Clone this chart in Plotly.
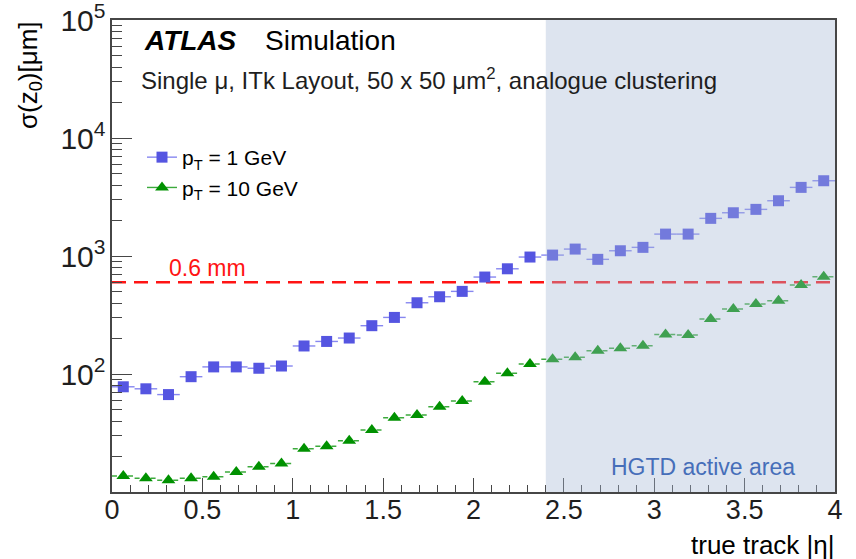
import plotly.graph_objects as go

# |eta| bin centres (bins of width 0.125 from 0 to 4)
ETA_CENTERS = [0.0625, 0.1875, 0.3125, 0.4375, 0.5625, 0.6875, 0.8125, 0.9375,
               1.0625, 1.1875, 1.3125, 1.4375, 1.5625, 1.6875, 1.8125, 1.9375,
               2.0625, 2.1875, 2.3125, 2.4375, 2.5625, 2.6875, 2.8125, 2.9375,
               3.0625, 3.1875, 3.3125, 3.4375, 3.5625, 3.6875, 3.8125, 3.9375]
BIN_HALF_WIDTH = 0.0625

# sigma(z0) in micrometres
SIGMA_PT1 = [78, 75, 67, 95, 115, 115, 112, 117, 173, 189, 202, 257, 302, 402, 452, 502,
             664, 780, 981, 1019, 1146, 938, 1109, 1185, 1535, 1535, 2087, 2328, 2487, 2943, 3820, 4348]
SIGMA_PT10 = [13.7, 13.1, 12.6, 13.1, 13.5, 14.8, 16.4, 17.5, 23.3, 24.5, 27.2, 33.5, 42.6, 44.9,
              52.8, 59.0, 86.1, 101.4, 121.6, 133.2, 138.6, 157.5, 165.1, 173.8, 216.9, 214.1,
              292.4, 355.6, 391.9, 418.0, 567.9, 667.6]

SERIES_NAMES = ["p<sub>T</sub> = 1 GeV", "p<sub>T</sub> = 10 GeV"]
REFERENCE_SIGMA = 600          # 0.6 mm line, in micrometres
HGTD_ETA_RANGE = [2.4, 4.0]
X_RANGE = [0, 4]
# log10 range; the lower end sits just above 1 so the "10" label at the bottom is not drawn
Y_RANGE_LOG = [1.0005, 5.0005]

FONT = "Liberation Sans, Arial, Helvetica, sans-serif"

# plot-area geometry in pixels (for placing text)
W, H = 856, 559
L, R, T, B = 112, 21, 20, 67
PW, PH = W - L - R, H - T - B


def px(xp):
    return (xp - L) / PW


def py(yp):
    return (T + PH - yp) / PH


def bin_segments(centers, values, half):
    xs, ys = [], []
    for c, v in zip(centers, values):
        xs += [c - half, c + half, None]
        ys += [v, v, None]
    return xs, ys


def isolated(centers, values):
    xs, ys = [], []
    for c, v in zip(centers, values):
        xs += [c, None]
        ys += [v, None]
    return xs, ys


BLUE = "rgb(85,85,225)"
BLUE_LIGHT = "rgb(135,135,240)"
GREEN = "rgb(0,145,0)"
GREEN_LIGHT = "rgb(60,170,60)"

fig = go.Figure()

# horizontal bin-width bars
sx, sy = bin_segments(ETA_CENTERS, SIGMA_PT1, BIN_HALF_WIDTH)
fig.add_trace(go.Scatter(x=sx, y=sy, mode="lines", line=dict(color=BLUE_LIGHT, width=1.4),
                         showlegend=False, hoverinfo="skip"))
sx, sy = bin_segments(ETA_CENTERS, SIGMA_PT10, BIN_HALF_WIDTH)
fig.add_trace(go.Scatter(x=sx, y=sy, mode="lines",
                         line=dict(color=GREEN_LIGHT, width=1.5, dash="5px,3px"),
                         showlegend=False, hoverinfo="skip"))

# markers (points separated so no connecting line is drawn)
mx, my = isolated(ETA_CENTERS, SIGMA_PT1)
fig.add_trace(go.Scatter(x=mx, y=my, mode="lines+markers", name=SERIES_NAMES[0],
                         line=dict(color=BLUE_LIGHT, width=1.4),
                         marker=dict(symbol="square", size=11, color=BLUE)))
mx, my = isolated(ETA_CENTERS, SIGMA_PT10)
fig.add_trace(go.Scatter(x=mx, y=my, mode="lines+markers", name=SERIES_NAMES[1],
                         line=dict(color=GREEN_LIGHT, width=1.4),
                         marker=dict(symbol="triangle-up", size=12, color=GREEN)))

shapes = [
    dict(type="line", xref="x", yref="y", x0=X_RANGE[0], x1=X_RANGE[1],
         y0=REFERENCE_SIGMA, y1=REFERENCE_SIGMA, layer="below",
         line=dict(color="rgb(255,20,20)", width=2.5, dash="14px,8px")),
    dict(type="rect", xref="x", yref="paper", x0=HGTD_ETA_RANGE[0], x1=HGTD_ETA_RANGE[1],
         y0=0, y1=1, layer="above", fillcolor="rgba(165,185,212,0.38)", line=dict(width=0)),
]

annotations = [
    dict(text="<b><i>ATLAS</i></b>", x=px(142), y=py(40), xanchor="left", yanchor="middle",
         font=dict(size=28, color="black", family=FONT)),
    dict(text="Simulation", x=px(263), y=py(40), xanchor="left", yanchor="middle",
         font=dict(size=28, color="black", family=FONT)),
    dict(text="Single \u03bc, ITk Layout, 50 x 50 \u03bcm<sup>2</sup>, analogue clustering",
         x=px(139), y=py(79), xanchor="left", yanchor="middle",
         font=dict(size=24, color="rgb(30,30,30)", family=FONT)),
    dict(text="0.6 mm", x=px(167), y=py(268), xanchor="left", yanchor="middle",
         font=dict(size=23, color="rgb(255,20,20)", family=FONT)),
    dict(text="HGTD active area", x=px(609), y=py(467), xanchor="left", yanchor="middle",
         font=dict(size=23, color="rgb(70,110,185)", family=FONT)),
    dict(text="true track |\u03b7|", x=px(837), y=py(545), xanchor="right", yanchor="middle",
         font=dict(size=26, color="black", family=FONT)),
    dict(text="\u03c3(z<sub>0</sub>)[\u03bcm]", x=px(30), y=py(19), xanchor="center", yanchor="top",
         textangle=-90, font=dict(size=26, color="black", family=FONT)),
]
for a in annotations:
    a.update(xref="paper", yref="paper", showarrow=False)

fig.update_layout(
    width=W, height=H,
    margin=dict(l=L, r=R, t=T, b=B, autoexpand=False),
    paper_bgcolor="white", plot_bgcolor="white",
    font=dict(family=FONT, color="black"),
    shapes=shapes,
    annotations=annotations,
    legend=dict(x=px(142), y=py(137), xanchor="left", yanchor="top",
                bgcolor="rgba(0,0,0,0)", font=dict(size=21, family=FONT, color="black"),
                tracegroupgap=0),
)

fig.update_xaxes(
    range=X_RANGE, dtick=0.5, tick0=0, showgrid=False, zeroline=False, automargin=False,
    showline=True, mirror=True, linecolor="rgb(70,70,70)", linewidth=1.5,
    ticks="inside", ticklen=14, tickwidth=1, tickcolor="rgb(70,70,70)",
    minor=dict(ticks="inside", ticklen=7, dtick=0.1, tickcolor="rgb(70,70,70)", showgrid=False),
    ticklabelstandoff=-7, ticklabeloverflow="allow",
    tickfont=dict(size=27, family=FONT, color="rgb(30,30,30)"),
)
fig.update_yaxes(
    type="log", range=Y_RANGE_LOG, dtick=1, exponentformat="power",
    showgrid=False, zeroline=False, automargin=False,
    showline=True, mirror=True, linecolor="rgb(70,70,70)", linewidth=1.5,
    ticks="inside", ticklen=20, tickwidth=1, tickcolor="rgb(70,70,70)",
    minor=dict(ticks="inside", ticklen=10, tickcolor="rgb(70,70,70)", showgrid=False),
    ticklabeloverflow="allow",
    tickfont=dict(size=24, family=FONT, color="rgb(30,30,30)"),
)

fig.write_html("out.html")
